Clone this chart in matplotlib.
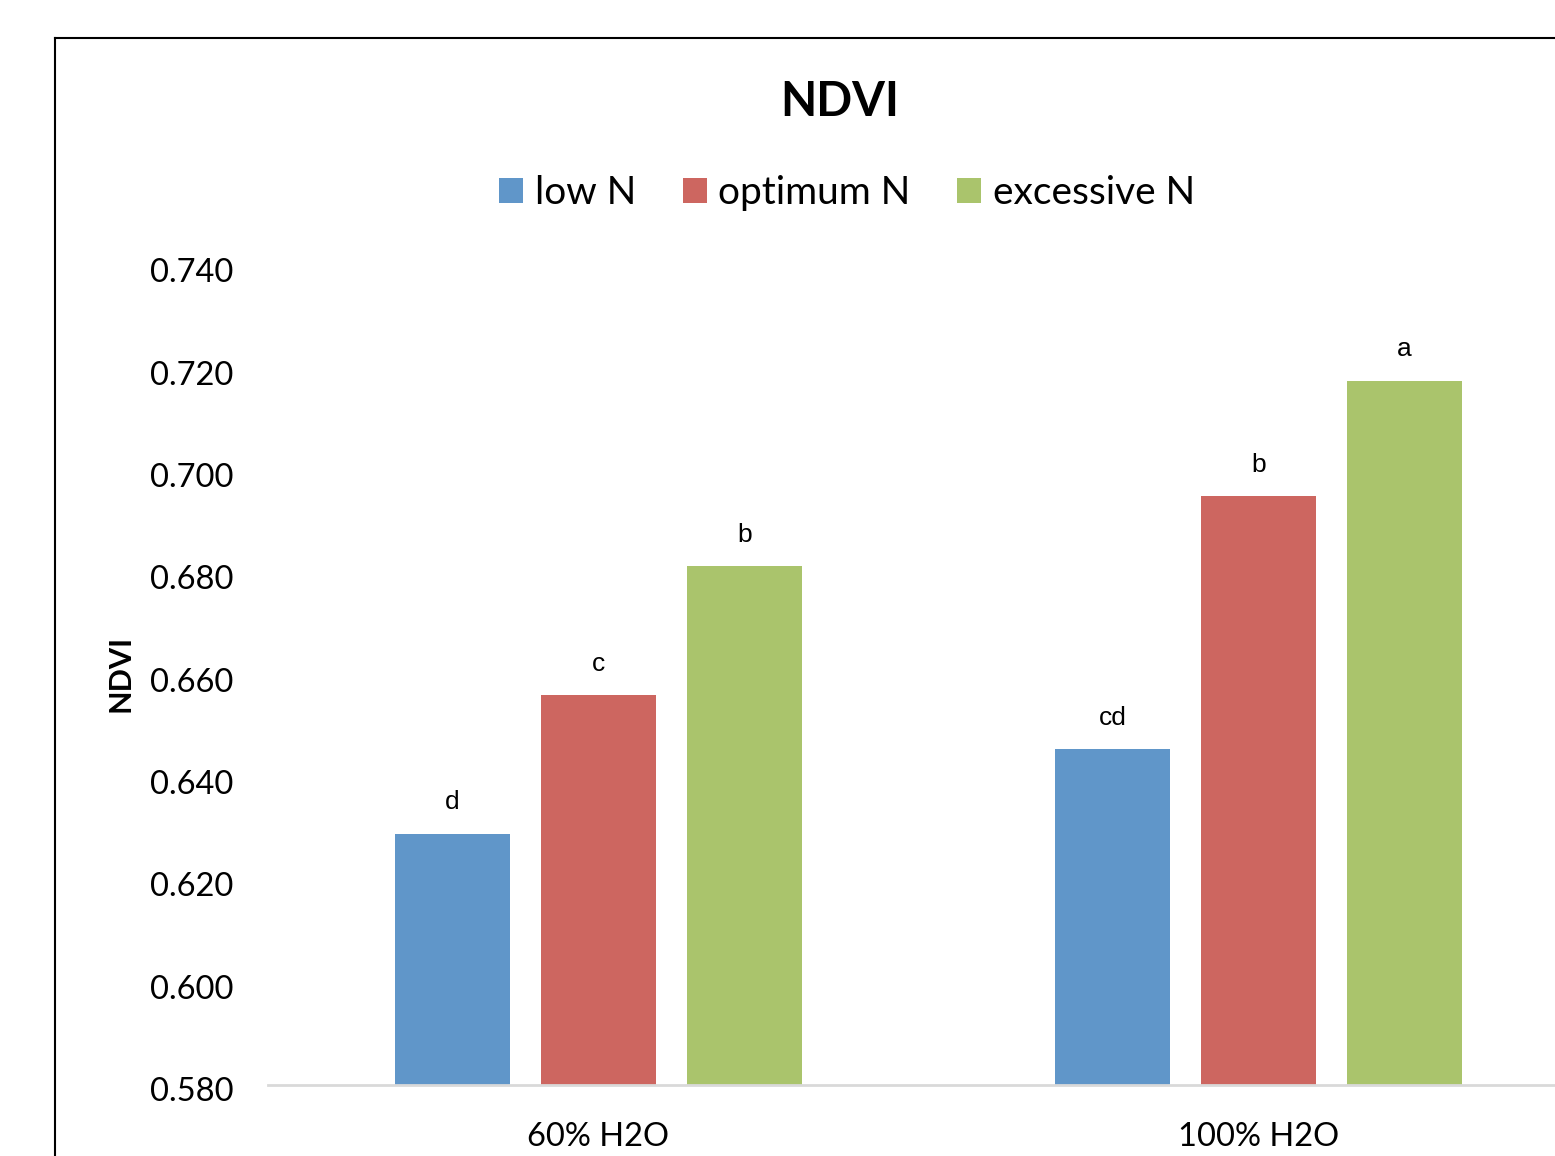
import numpy as np
import matplotlib.pyplot as plt
import matplotlib.transforms as mtransforms
from matplotlib.lines import Line2D
from matplotlib.patches import Patch

# NDVI medie per livello di acqua e di azoto
gruppi = ['60% H2O', '100% H2O']
serie = ['low N', 'optimum N', 'excessive N']
low_n = [0.6291, 0.6456]
optimum_n = [0.6561, 0.6950]
excessive_n = [0.6813, 0.7176]
lettere = [['d', 'cd'], ['c', 'b'], ['b', 'a']]
yticks = [0.580, 0.600, 0.620, 0.640, 0.660, 0.680, 0.700, 0.720, 0.740]

colori = ['#6096C9', '#CD6660', '#AAC46C']
font = 'Lato'

fig = plt.figure(figsize=(15.55, 11.56), dpi=100)
ax = fig.add_axes([268/1555, 1 - 1085/1156, (1589 - 268)/1555, (1085 - 266)/1156])

x = np.arange(len(gruppi))
larg = 0.174
passo = 0.221
valori = [low_n, optimum_n, excessive_n]
for j in range(len(serie)):
    pos = x + (j - 1)*passo
    ax.bar(pos, valori[j], width=larg, bottom=0, color=colori[j],
           edgecolor='none', zorder=2)
    for i in range(len(gruppi)):
        ax.annotate(lettere[j][i], (pos[i], valori[j][i]), xytext=(0, 14),
                    textcoords='offset points', ha='center', va='bottom',
                    fontsize=19, family='Liberation Sans')

ax.set_ylim(0.58, 0.74)
ax.set_xlim(-0.5, 1.5)
ax.set_yticks(yticks)
ax.set_yticklabels(['%.3f' % v for v in yticks], fontsize=23.5, family=font,
                   va='center_baseline')
ax.set_xticks(x)
ax.set_xticklabels(gruppi, fontsize=23.5, family=font)
ax.tick_params(axis='y', length=0, pad=25)
ax.tick_params(axis='x', length=0, pad=27)
# etichette dell'asse y leggermente più in basso
sposta = mtransforms.ScaledTranslation(0, -3/72, fig.dpi_scale_trans)
for t in ax.get_yticklabels():
    t.set_transform(t.get_transform() + sposta)
for s in ['top', 'right', 'left']:
    ax.spines[s].set_visible(False)
ax.spines['bottom'].set_color('#d9d9d9')
ax.spines['bottom'].set_linewidth(2)
ax.spines['bottom'].set_zorder(3)

fig.text(120/1555, 1 - 673/1156, 'NDVI', rotation=90, ha='center', va='center',
         fontsize=22, fontweight='bold', family=font)
fig.text(840/1555, 1 - 102/1156, 'NDVI', ha='center', va='center',
         fontsize=34, fontweight='bold', family=font)

maniglie = [Patch(facecolor=c, edgecolor='none') for c in colori]
fig.legend(maniglie, serie, loc='center', bbox_to_anchor=(847/1555, 1 - 193/1156),
           ncol=3, frameon=False, prop={'family': font, 'size': 28},
           handlelength=0.62, handleheight=0.62, handletextpad=0.3,
           columnspacing=1.2)

# cornice del grafico
y0 = 1 - 38/1156
x0 = 55/1555
fig.add_artist(Line2D([x0, 1.0], [y0, y0], color='black', lw=1.5))
fig.add_artist(Line2D([x0, x0], [y0, 0.0], color='black', lw=1.5))

fig.savefig('out.png', dpi=100)
